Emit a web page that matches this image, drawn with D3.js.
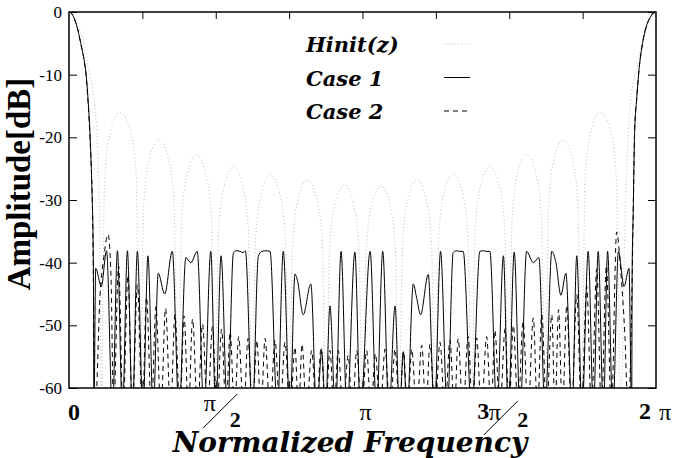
<!DOCTYPE html>
<html>
<head>
<meta charset="utf-8">
<script src="https://cdnjs.cloudflare.com/ajax/libs/d3/7.8.5/d3.min.js"></script>
<style>
    body { margin: 0; background: #fff; }
    svg { display: block; }
    .tick line { stroke: #000; stroke-width: 1; }
    .tick text { font-family: "Liberation Serif", "Times New Roman", serif; font-size: 17px; fill: #000; }
</style>
</head>
<body>
<svg id="chart" width="677" height="458"></svg>
<script>
// frequency in units of pi, amplitude in dB (nulls read as below the -60 floor)
var hinit = [
    [0,0],[0.017,-0.7],[0.031,-2.2],[0.048,-4.5],[0.065,-8.8],[0.089,-15.6],[0.099,-24],[0.106,-40],[0.109,-64],
    [0.122,-26],[0.142,-19],[0.174,-16],[0.209,-19],[0.229,-26],[0.242,-64],
    [0.255,-30.4],[0.274,-23.4],[0.307,-20.4],[0.339,-23.4],[0.358,-30.4],[0.371,-64],
    [0.384,-32.8],[0.403,-25.8],[0.434,-22.8],[0.466,-25.8],[0.485,-32.8],[0.497,-64],
    [0.510,-34.7],[0.529,-27.7],[0.560,-24.7],[0.592,-27.7],[0.611,-34.7],[0.624,-64],
    [0.636,-36],[0.655,-29],[0.687,-26],[0.718,-29],[0.737,-36],[0.750,-64],
    [0.762,-36.8],[0.781,-29.8],[0.813,-26.8],[0.844,-29.8],[0.863,-36.8],[0.876,-64],
    [0.888,-37.6],[0.907,-30.6],[0.938,-27.6],[0.969,-30.6],[0.988,-37.6],[1.000,-64],
    [1.013,-37.8],[1.032,-30.8],[1.063,-27.8],[1.094,-30.8],[1.112,-37.8],[1.124,-64],
    [1.137,-36.8],[1.155,-29.8],[1.186,-26.8],[1.216,-29.8],[1.235,-36.8],[1.247,-64],
    [1.260,-35.8],[1.278,-28.8],[1.309,-25.8],[1.340,-28.8],[1.359,-35.8],[1.371,-64],
    [1.384,-34.7],[1.403,-27.7],[1.434,-24.7],[1.466,-27.7],[1.485,-34.7],[1.497,-64],
    [1.510,-32.8],[1.528,-25.8],[1.560,-22.8],[1.591,-25.8],[1.610,-32.8],[1.622,-64],
    [1.634,-30.4],[1.653,-23.4],[1.683,-20.4],[1.715,-23.4],[1.734,-30.4],[1.746,-64],
    [1.759,-26],[1.779,-19],[1.809,-16],[1.845,-19],[1.864,-26],[1.881,-64],
    [1.891,-40],[1.901,-24],[1.911,-15.6],[1.935,-8.8],[1.956,-4.5],[1.973,-2.2],[1.986,-0.7],[2,0]
];

var case1 = [
    [0,0],[0.010,-0.3],[0.020,-1.3],[0.031,-3],[0.040,-5],[0.051,-7.5],[0.058,-9.8],[0.065,-14],[0.072,-19.9],[0.076,-25],[0.079,-29.7],[0.083,-40],[0.085,-64],
    [0.091,-40.9],[0.110,-43.8],[0.128,-38.1],[0.148,-64],
    [0.165,-38.1],[0.182,-64],
    [0.199,-38.1],[0.216,-64],
    [0.233,-38.2],[0.252,-64],
    [0.269,-38.9],[0.287,-64],
    [0.304,-41.7],[0.326,-45],[0.352,-38.2],[0.375,-64],
    [0.398,-39.2],[0.415,-40],[0.437,-38.2],[0.460,-64],
    [0.483,-38.2],[0.500,-64],
    [0.518,-38.9],[0.540,-64],
    [0.560,-38.5],[0.569,-38.1],[0.583,-38.2],[0.593,-38.4],[0.601,-38.1],[0.625,-64],
    [0.645,-39],[0.657,-38.2],[0.671,-38.1],[0.685,-38.2],[0.710,-64],
    [0.730,-38.2],[0.753,-64],
    [0.770,-41.8],[0.779,-43],[0.798,-48.3],[0.824,-43.4],[0.844,-64],
    [0.861,-54.2],[0.874,-64],
    [0.889,-46.9],[0.908,-64],
    [0.927,-38.2],[0.947,-64],
    [0.974,-38.3],[0.993,-64],
    [1.026,-38.2],[1.048,-64],
    [1.069,-38.2],[1.090,-64],
    [1.111,-46.9],[1.126,-64],
    [1.139,-54.2],[1.152,-64],
    [1.173,-43.4],[1.184,-45.5],[1.198,-48.3],[1.224,-41.9],[1.245,-64],
    [1.266,-38.2],[1.289,-64],
    [1.309,-38.4],[1.319,-38.1],[1.332,-38.2],[1.343,-38.2],[1.372,-64],
    [1.400,-38.2],[1.411,-38.1],[1.424,-38.2],[1.434,-38.2],[1.458,-64],
    [1.480,-38.9],[1.497,-64],
    [1.517,-38.3],[1.537,-64],
    [1.559,-38.2],[1.582,-40],[1.601,-39.2],[1.622,-64],
    [1.645,-38.2],[1.659,-40],[1.676,-45.2],[1.693,-41.7],[1.714,-64],
    [1.730,-38.9],[1.748,-64],
    [1.769,-38.2],[1.787,-64],
    [1.803,-38.2],[1.821,-64],
    [1.835,-38.2],[1.853,-64],
    [1.872,-38.2],[1.891,-43.8],[1.908,-40.9],[1.917,-64],
    [1.919,-40],[1.922,-33],[1.927,-19.4],[1.934,-14],[1.941,-9.8],[1.956,-4.5],[1.969,-2],[1.981,-0.8],[1.990,-0.2],[2,0]
];

var case2 = [
    [0,0],[0.010,-0.3],[0.020,-1.3],[0.031,-3],[0.040,-5],[0.051,-7.6],[0.058,-10],[0.065,-14.5],[0.072,-20.5],[0.077,-26],[0.080,-31],[0.083,-42],[0.089,-64],
    [0.106,-45],[0.119,-39],[0.133,-35.5],[0.143,-42],[0.152,-64],
    [0.169,-40.5],[0.184,-64],
    [0.201,-42],[0.216,-64],
    [0.233,-43.5],[0.250,-64],
    [0.264,-45.5],[0.281,-64],
    [0.296,-47],[0.313,-64],
    [0.329,-47.3],[0.346,-64],
    [0.361,-48.3],[0.378,-64],
    [0.392,-48.5],[0.407,-64],
    [0.421,-49],[0.438,-64],
    [0.455,-49.8],[0.472,-64],
    [0.489,-50.2],[0.504,-64],
    [0.520,-50.6],[0.535,-64],
    [0.549,-51],[0.564,-64],
    [0.578,-51.8],[0.595,-64],
    [0.610,-52.1],[0.625,-64],
    [0.640,-52.4],[0.654,-64],
    [0.668,-52.1],[0.685,-64],
    [0.702,-52.4],[0.719,-64],
    [0.736,-52.7],[0.753,-64],
    [0.770,-53.5],[0.782,-64],
    [0.794,-53],[0.809,-64],
    [0.827,-54],[0.843,-64],
    [0.859,-53.5],[0.874,-64],
    [0.889,-54],[0.903,-64],
    [0.917,-54],[0.934,-64],
    [0.951,-54.8],[0.966,-64],
    [0.980,-54],[0.997,-64],
    [1.014,-54],[1.029,-64],
    [1.044,-54.5],[1.060,-64],
    [1.077,-53.8],[1.094,-64],
    [1.111,-53.8],[1.126,-64],
    [1.140,-54.2],[1.153,-64],
    [1.168,-53.8],[1.184,-64],
    [1.202,-53.2],[1.216,-64],
    [1.230,-53],[1.247,-64],
    [1.264,-52.7],[1.281,-64],
    [1.298,-52.4],[1.313,-64],
    [1.326,-52.1],[1.342,-64],
    [1.360,-51.8],[1.375,-64],
    [1.389,-52],[1.405,-64],
    [1.423,-51.8],[1.438,-64],
    [1.451,-50.8],[1.468,-64],
    [1.486,-50.5],[1.499,-64],
    [1.514,-50],[1.530,-64],
    [1.547,-49.4],[1.564,-64],
    [1.582,-48.8],[1.596,-64],
    [1.611,-48.3],[1.627,-64],
    [1.645,-48.3],[1.656,-64],
    [1.668,-47.5],[1.681,-64],
    [1.696,-46.8],[1.712,-64],
    [1.730,-45.1],[1.746,-64],
    [1.764,-43.8],[1.780,-64],
    [1.798,-41],[1.814,-64],
    [1.831,-40.5],[1.848,-64],
    [1.866,-35.1],[1.881,-42],[1.894,-51.6],[1.905,-64],
    [1.919,-42],[1.922,-33],[1.927,-19.4],[1.934,-14],[1.941,-9.8],[1.956,-4.5],[1.969,-2],[1.981,-0.8],[1.990,-0.2],[2,0]
];

var yTicks = [0, -10, -20, -30, -40, -50, -60];
var xTicks = [0.25, 0.5, 0.75, 1, 1.25, 1.5, 1.75];
var xLabelValues = [0, 0.5, 1, 1.5, 2];
var xLabelTexts = ['0', 'π/2', 'π', '3π/2', '2 π'];
var seriesNames = ['Hinit(z)', 'Case 1', 'Case 2'];

var serif = '"Liberation Serif", "Times New Roman", serif';
var heavy = '"DejaVu Serif", serif';

var margin = {top: 12, right: 21, bottom: 70, left: 69};
var width = 677 - margin.left - margin.right,
    height = 458 - margin.top - margin.bottom;

var svg = d3.select('#chart');
svg.append('rect').attr('width', 677).attr('height', 458).attr('fill', '#fff');

var g = svg.append('g')
    .attr('transform', 'translate(' + margin.left + ',' + margin.top + ')');

var x = d3.scaleLinear().domain([0, 2]).range([0, width]);
var y = d3.scaleLinear().domain([-60, 0]).range([height, 0]);

g.append('clipPath').attr('id', 'plot-clip')
  .append('rect').attr('width', width).attr('height', height);

var line = d3.line()
    .x(function(d) { return x(d[0]); })
    .y(function(d) { return y(d[1]); })
    .curve(d3.curveMonotoneX);

var styles = [
    {stroke: '#bdbdbd', dash: '1,2.5', width: 1},
    {stroke: '#000', dash: null, width: 1},
    {stroke: '#000', dash: '5,4', width: 1}
];

var plot = g.append('g').attr('clip-path', 'url(#plot-clip)');
[hinit, case2, case1].forEach(function(data) {
    var s = styles[data === hinit ? 0 : (data === case1 ? 1 : 2)];
    plot.append('path')
        .datum(data)
        .attr('d', line)
        .attr('fill', 'none')
        .attr('stroke', s.stroke)
        .attr('stroke-width', s.width)
        .attr('stroke-dasharray', s.dash);
});

// axes: ticks pointing inwards on all four sides
g.append('g')
    .call(d3.axisLeft(y).tickValues(yTicks).tickSize(-8).tickPadding(7)
        .tickFormat(function(d) { return String(d); }))
    .call(function(a) { a.select('.domain').remove(); });
g.append('g')
    .attr('transform', 'translate(' + width + ',0)')
    .call(d3.axisRight(y).tickValues(yTicks).tickSize(-8).tickFormat(''))
    .call(function(a) { a.select('.domain').remove(); });
g.append('g')
    .call(d3.axisTop(x).tickValues(xTicks).tickSize(-7).tickFormat(''))
    .call(function(a) { a.select('.domain').remove(); });
g.append('g')
    .attr('transform', 'translate(0,' + height + ')')
    .call(d3.axisBottom(x).tickValues(xTicks).tickSize(-7).tickFormat(''))
    .call(function(a) { a.select('.domain').remove(); });

g.append('rect')
    .attr('width', width)
    .attr('height', height)
    .attr('fill', 'none')
    .attr('stroke', '#000')
    .attr('stroke-width', 1.5);

// x tick labels in units of pi
function label(px, py, str, bold, size) {
    return g.append('text')
        .attr('x', px).attr('y', py)
        .attr('font-family', serif)
        .attr('font-weight', bold ? 'bold' : 'normal')
        .attr('font-size', size)
        .text(str);
}

xLabelValues.forEach(function(v, i) {
    var t = xLabelTexts[i], px = x(v);
    if (t === '0') {
        label(px - 1, height + 32, '0', true, 24);
    } else if (t === 'π') {
        label(px + 3, height + 32, 'π', false, 24).attr('text-anchor', 'middle');
    } else if (t === '2 π') {
        label(px - 17, height + 31, '2', true, 24);
        label(px + 3, height + 32, 'π', false, 24);
    } else {
        var num = t.split('/')[0], den = t.split('/')[1];
        var shift = num.length > 1 ? -13 : 0;
        if (num.length > 1) {
            label(px - 32, height + 31, num[0], true, 24);
            label(px - 20.5, height + 32, 'π', false, 24);
        } else {
            label(px - 12, height + 23, 'π', false, 24);
        }
        g.append('line')
            .attr('x1', px - 12.5 + shift).attr('y1', height + 40 + (shift ? 7 : 0))
            .attr('x2', px + 21.5 + shift).attr('y2', height + 6 + (shift ? 7 : 0))
            .attr('stroke', '#000').attr('stroke-width', 1);
        label(px + 14 + (shift ? -6 : 0), height + 39, den, true, 22);
    }
});

// axis titles
svg.append('text')
    .attr('x', 350)
    .attr('y', 452)
    .attr('text-anchor', 'middle')
    .attr('font-family', heavy)
    .attr('font-weight', 'bold')
    .attr('font-style', 'italic')
    .attr('font-size', 28)
    .text('Normalized Frequency');

svg.append('text')
    .attr('transform', 'translate(30,184) rotate(-90)')
    .attr('text-anchor', 'middle')
    .attr('font-family', serif)
    .attr('font-weight', 'bold')
    .attr('font-size', 33)
    .text('Amplitude[dB]');

// legend
var legend = svg.selectAll('.legend')
    .data(seriesNames)
    .enter().append('g')
    .attr('class', 'legend')
    .attr('transform', function(d, i) { return 'translate(306,' + (52 + i * 33.5) + ')'; });

legend.append('text')
    .attr('font-family', heavy)
    .attr('font-weight', 'bold')
    .attr('font-style', 'italic')
    .attr('font-size', 21)
    .text(function(d) { return d; });

legend.append('line')
    .attr('x1', 138).attr('x2', 164)
    .attr('y1', -8).attr('y2', -8)
    .attr('stroke', function(d, i) { return styles[i].stroke; })
    .attr('stroke-width', 1)
    .attr('stroke-dasharray', function(d, i) { return styles[i].dash; });
</script>
</body>
</html>
